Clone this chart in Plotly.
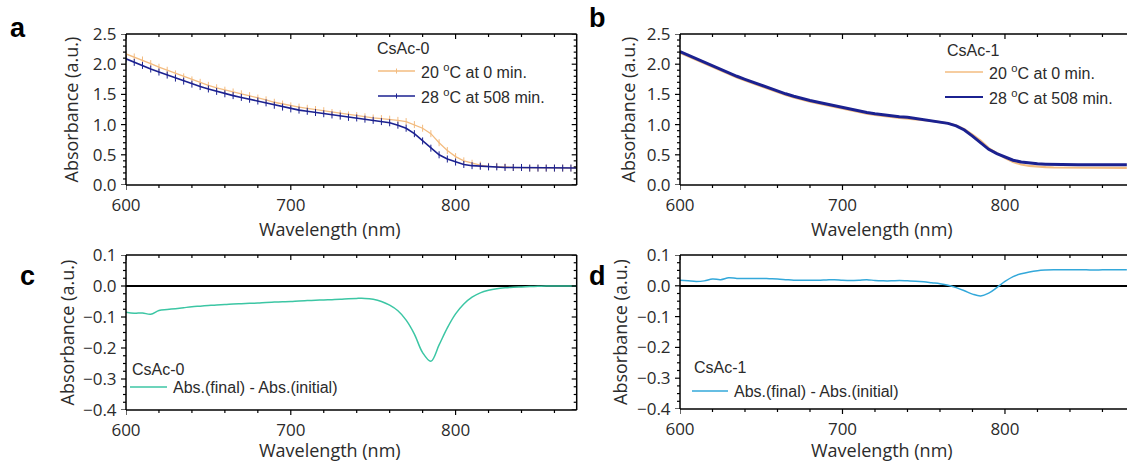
import plotly.graph_objects as go

W, H = 1127, 465

# wavelength grid (nm) shared by every spectrum
wavelength = list(range(600, 880, 5))

# CsAc-0 absorbance spectra
csac0_initial = [
    2.17, 2.12, 2.07, 2.01, 1.95, 1.90, 1.84, 1.79, 1.74, 1.70,
    1.65, 1.61, 1.57, 1.54, 1.51, 1.48, 1.44, 1.41, 1.37, 1.34,
    1.31, 1.29, 1.27, 1.25, 1.23, 1.20, 1.18, 1.16, 1.15, 1.13,
    1.11, 1.10, 1.09, 1.07, 1.05, 1.00, 0.94, 0.85, 0.70, 0.57,
    0.47, 0.40, 0.36, 0.33, 0.31, 0.31, 0.30, 0.29, 0.29, 0.28,
    0.28, 0.28, 0.28, 0.28, 0.28, 0.28]
csac0_final = [
    2.09, 2.03, 1.98, 1.92, 1.87, 1.82, 1.77, 1.72, 1.67, 1.63,
    1.59, 1.55, 1.51, 1.48, 1.45, 1.42, 1.39, 1.36, 1.32, 1.29,
    1.26, 1.24, 1.22, 1.20, 1.18, 1.16, 1.14, 1.12, 1.11, 1.09,
    1.07, 1.05, 1.03, 0.99, 0.94, 0.85, 0.73, 0.61, 0.50, 0.43,
    0.38, 0.34, 0.32, 0.31, 0.30, 0.30, 0.29, 0.29, 0.29, 0.28,
    0.28, 0.28, 0.28, 0.28, 0.28, 0.28]
csac0_diff = [
    -0.085, -0.088, -0.087, -0.091, -0.079, -0.076, -0.073, -0.070, -0.067, -0.065,
    -0.063, -0.061, -0.060, -0.058, -0.057, -0.056, -0.055, -0.053, -0.052, -0.051,
    -0.050, -0.048, -0.047, -0.046, -0.045, -0.044, -0.043, -0.041, -0.040, -0.040,
    -0.043, -0.050, -0.062, -0.080, -0.110, -0.155, -0.215, -0.243, -0.190, -0.135,
    -0.090, -0.058, -0.036, -0.022, -0.014, -0.009, -0.006, -0.004, -0.003, -0.002,
    -0.001, 0.0, 0.0, 0.0, 0.0, 0.0]

# CsAc-1 absorbance spectra
csac1_initial = [
    2.19, 2.13, 2.07, 2.01, 1.95, 1.89, 1.84, 1.78, 1.73, 1.68,
    1.63, 1.58, 1.53, 1.49, 1.45, 1.41, 1.38, 1.35, 1.32, 1.29,
    1.26, 1.23, 1.21, 1.18, 1.16, 1.14, 1.13, 1.11, 1.10, 1.09,
    1.08, 1.06, 1.04, 1.02, 0.985, 0.925, 0.835, 0.735, 0.61, 0.52,
    0.445, 0.38, 0.34, 0.315, 0.30, 0.295, 0.29, 0.29, 0.285, 0.285,
    0.285, 0.285, 0.285, 0.285, 0.285, 0.285]
csac1_final = [
    2.21, 2.15, 2.09, 2.03, 1.97, 1.91, 1.86, 1.80, 1.75, 1.70,
    1.65, 1.60, 1.55, 1.51, 1.47, 1.43, 1.40, 1.37, 1.34, 1.31,
    1.28, 1.25, 1.23, 1.20, 1.18, 1.16, 1.15, 1.13, 1.12, 1.10,
    1.09, 1.07, 1.05, 1.02, 0.98, 0.91, 0.81, 0.70, 0.59, 0.52,
    0.46, 0.41, 0.38, 0.36, 0.35, 0.345, 0.34, 0.34, 0.335, 0.335,
    0.335, 0.335, 0.335, 0.335, 0.335, 0.335]
csac1_diff = [
    0.018, 0.016, 0.014, 0.016, 0.022, 0.020, 0.026, 0.024, 0.024, 0.024,
    0.024, 0.023, 0.022, 0.020, 0.018, 0.018, 0.018, 0.018, 0.019, 0.020,
    0.018, 0.017, 0.018, 0.020, 0.017, 0.016, 0.016, 0.017, 0.016, 0.015,
    0.013, 0.010, 0.007, 0.002, -0.006, -0.016, -0.027, -0.033, -0.024, -0.006,
    0.014, 0.030, 0.039, 0.045, 0.049, 0.051, 0.052, 0.052, 0.052, 0.052,
    0.052, 0.051, 0.052, 0.052, 0.052, 0.052]

# tick values
x_major = [600, 700, 800]
x_minor = [600, 620, 640, 660, 680, 700, 720, 740, 760, 780, 800, 820, 840, 860]
y_major_abs = [0.0, 0.5, 1.0, 1.5, 2.0, 2.5]
y_minor_abs = [i / 10 for i in range(0, 26)]
y_major_diff = [-0.4, -0.3, -0.2, -0.1, 0.0, 0.1]
y_minor_diff = [-0.4 + i * 0.025 for i in range(0, 21)]

sample_names = ["CsAc-0", "CsAc-1"]
series_labels = ["20 <sup>o</sup>C at 0 min.", "28 <sup>o</sup>C at 508 min."]
diff_label = "Abs.(final) - Abs.(initial)"
panel_letters = ["a", "b", "c", "d"]
x_title = "Wavelength (nm)"
y_title = "Absorbance (a.u.)"

ORANGE = "#F3BC80"
NAVY = "#1B2190"
TEAL = "#3CC6A4"
SKY = "#33A8DA"
INK = "#2b2b2b"
TICK_FONT = dict(family="Open Sans", size=17, color=INK)
TITLE_FONT = dict(family="Open Sans", size=18, color=INK)
LEG_FONT = dict(family="Liberation Sans", size=16, color=INK)
CLEAR = "rgba(0,0,0,0)"


def px_x(p):
    return p / W


def px_y(p):
    return 1 - p / H


# panel boxes in pixels: (left, right, top, bottom)
boxes = {
    1: (126, 576.7, 34, 185),
    2: (680, 1127, 34, 185),
    3: (126, 576.7, 255, 410),
    4: (680, 1127, 255, 409),
}
xranges = {1: [600, 873.5], 2: [600, 875.1], 3: [600, 873.5], 4: [600, 875.1]}
yranges = {1: [0, 2.5], 2: [0, 2.5], 3: [-0.4, 0.1], 4: [-0.4, 0.1]}
yticks = {1: (y_major_abs, y_minor_abs), 2: (y_major_abs, y_minor_abs),
          3: (y_major_diff, y_minor_diff), 4: (y_major_diff, y_minor_diff)}
has_right = {1: True, 2: False, 3: True, 4: False}

fig = go.Figure()


def marker_style(c, size=5):
    return dict(symbol="line-ns", size=size, line=dict(width=1, color=c), color=c)


# panel a
fig.add_trace(go.Scatter(x=wavelength, y=csac0_initial, mode="lines+markers",
                         line=dict(color=ORANGE, width=1.3), marker=marker_style(ORANGE),
                         name=series_labels[0], xaxis="x", yaxis="y"))
fig.add_trace(go.Scatter(x=wavelength, y=csac0_final, mode="lines+markers",
                         line=dict(color=NAVY, width=1.6), marker=marker_style(NAVY),
                         name=series_labels[1], xaxis="x", yaxis="y"))
# panel b
fig.add_trace(go.Scatter(x=wavelength, y=csac1_initial, mode="lines",
                         line=dict(color=ORANGE, width=2.2),
                         name=series_labels[0], xaxis="x2", yaxis="y2"))
fig.add_trace(go.Scatter(x=wavelength, y=csac1_final, mode="lines",
                         line=dict(color=NAVY, width=3),
                         name=series_labels[1], xaxis="x2", yaxis="y2"))
# panel c
fig.add_trace(go.Scatter(x=wavelength, y=csac0_diff, mode="lines", line_shape="spline",
                         line=dict(color=TEAL, width=1.5),
                         name=diff_label, xaxis="x3", yaxis="y3"))
# panel d
fig.add_trace(go.Scatter(x=wavelength, y=csac1_diff, mode="lines", line_shape="spline",
                         line=dict(color=SKY, width=1.5),
                         name=diff_label, xaxis="x4", yaxis="y4"))

layout = dict(width=W, height=H, margin=dict(l=0, r=0, t=0, b=0, autoexpand=False),
              paper_bgcolor="white", plot_bgcolor="white", showlegend=False)

shapes = []
FRAME = dict(color="black", width=1.5)
TICKLINE = dict(color="black", width=1.2)

for i in range(1, 5):
    l, r, t, b = boxes[i]
    sfx = "" if i == 1 else str(i)
    ymaj, ymin = yticks[i]
    # axes carry the scales and the labels; frame and tick marks are drawn below
    layout["xaxis" + sfx] = dict(domain=[px_x(l), min(px_x(r), 1.0)], range=xranges[i],
                                 anchor="y" + sfx, showgrid=False, zeroline=False,
                                 showline=False, ticks="outside", ticklen=5,
                                 tickcolor=CLEAR, tickvals=x_major, tickfont=TICK_FONT,
                                 automargin=False)
    layout["yaxis" + sfx] = dict(domain=[px_y(b), px_y(t)], range=yranges[i],
                                 anchor="x" + sfx, showgrid=False, showline=False,
                                 ticks="outside", ticklen=5, tickcolor=CLEAR,
                                 tickvals=ymaj, tickformat=".1f", tickfont=TICK_FONT,
                                 zeroline=(i >= 3), zerolinecolor="black", zerolinewidth=1.5,
                                 automargin=False)
    xr, yr = "x" + sfx, "y" + sfx
    xd, yd = xr + " domain", yr + " domain"
    # frame: bottom, left, top, and right where the panel is not cut off
    shapes.append(dict(type="line", xref=xd, yref=yd, x0=0, x1=1, y0=0, y1=0, line=FRAME))
    shapes.append(dict(type="line", xref=xd, yref=yd, x0=0, x1=0, y0=0, y1=1, line=FRAME))
    shapes.append(dict(type="line", xref=xd, yref=yd, x0=0, x1=1, y0=1, y1=1, line=FRAME))
    if has_right[i]:
        shapes.append(dict(type="line", xref=xd, yref=yd, x0=1, x1=1, y0=0, y1=1,
                           line=FRAME))
    # x ticks: outward at the bottom, inward at the top
    for v in x_minor:
        ln = 5 if v in x_major else 3
        shapes.append(dict(type="line", xref=xr, yref=yd, x0=v, x1=v,
                           ysizemode="pixel", yanchor=0, y0=0, y1=-ln, line=TICKLINE))
        shapes.append(dict(type="line", xref=xr, yref=yd, x0=v, x1=v,
                           ysizemode="pixel", yanchor=1, y0=0, y1=-ln, line=TICKLINE))
    # y ticks: outward on the left, inward on the right
    for v in ymin:
        ln = 5 if any(abs(v - m) < 1e-9 for m in ymaj) else 3
        shapes.append(dict(type="line", xref=xd, yref=yr, y0=v, y1=v,
                           xsizemode="pixel", xanchor=0, x0=0, x1=-ln, line=TICKLINE))
        if has_right[i]:
            shapes.append(dict(type="line", xref=xd, yref=yr, y0=v, y1=v,
                               xsizemode="pixel", xanchor=1, x0=0, x1=-ln, line=TICKLINE))

# legends: (title, title position, [(label, colour, width, tick mark), ...], sample x, rows y)
legends = [
    (sample_names[0], (375, 49), [(series_labels[0], ORANGE, 1.3, True),
                                  (series_labels[1], NAVY, 1.6, True)], (378, 415), [71, 96]),
    (sample_names[1], (945, 51), [(series_labels[0], ORANGE, 1.6, False),
                                  (series_labels[1], NAVY, 2.0, False)], (945, 983), [72, 97]),
    (sample_names[0], (130, 369), [(diff_label, TEAL, 1.5, False)], (130, 167), [387]),
    (sample_names[1], (692, 367), [(diff_label, SKY, 1.5, False)], (692, 728), [391]),
]
for title, (tx, ty), rows, (sx0, sx1), row_y in legends:
    fig.add_annotation(text=title, x=px_x(tx), y=px_y(ty), xref="paper", yref="paper",
                       showarrow=False, font=LEG_FONT, xanchor="left", yanchor="middle")
    for (label, color, width, tick), yy in zip(rows, row_y):
        shapes.append(dict(type="line", xref="paper", yref="paper",
                           x0=px_x(sx0), x1=px_x(sx1), y0=px_y(yy), y1=px_y(yy),
                           line=dict(color=color, width=width)))
        if tick:
            xm = (sx0 + sx1) / 2
            shapes.append(dict(type="line", xref="paper", yref="paper",
                               x0=px_x(xm), x1=px_x(xm), y0=px_y(yy - 2.5), y1=px_y(yy + 2.5),
                               line=dict(color=color, width=1)))
        fig.add_annotation(text=label, x=px_x(sx1 + 4), y=px_y(yy), xref="paper",
                           yref="paper", showarrow=False, font=LEG_FONT,
                           xanchor="left", yanchor="middle")

layout["shapes"] = shapes
fig.update_layout(**layout)

# axis titles
for i, (xc, yc) in {1: (70, 109.5), 2: (627, 109.5), 3: (66, 332.5), 4: (620, 332)}.items():
    fig.add_annotation(text=y_title, x=px_x(xc), y=px_y(yc), xref="paper", yref="paper",
                       textangle=-90, showarrow=False, font=TITLE_FONT,
                       xanchor="center", yanchor="middle")
for i, (xc, yc) in {1: (330, 229), 2: (882, 229), 3: (330, 450), 4: (882, 450)}.items():
    fig.add_annotation(text=x_title, x=px_x(xc), y=px_y(yc), xref="paper", yref="paper",
                       showarrow=False, font=TITLE_FONT, xanchor="center", yanchor="middle")

# panel letters
for letter, (xc, yc) in zip(panel_letters, [(18, 28), (597, 18), (27, 276), (597, 276)]):
    fig.add_annotation(text="<b>%s</b>" % letter, x=px_x(xc), y=px_y(yc),
                       xref="paper", yref="paper", showarrow=False,
                       font=dict(family="Liberation Sans", size=27, color="black"),
                       xanchor="center", yanchor="middle")

fig.write_html("out.html")
